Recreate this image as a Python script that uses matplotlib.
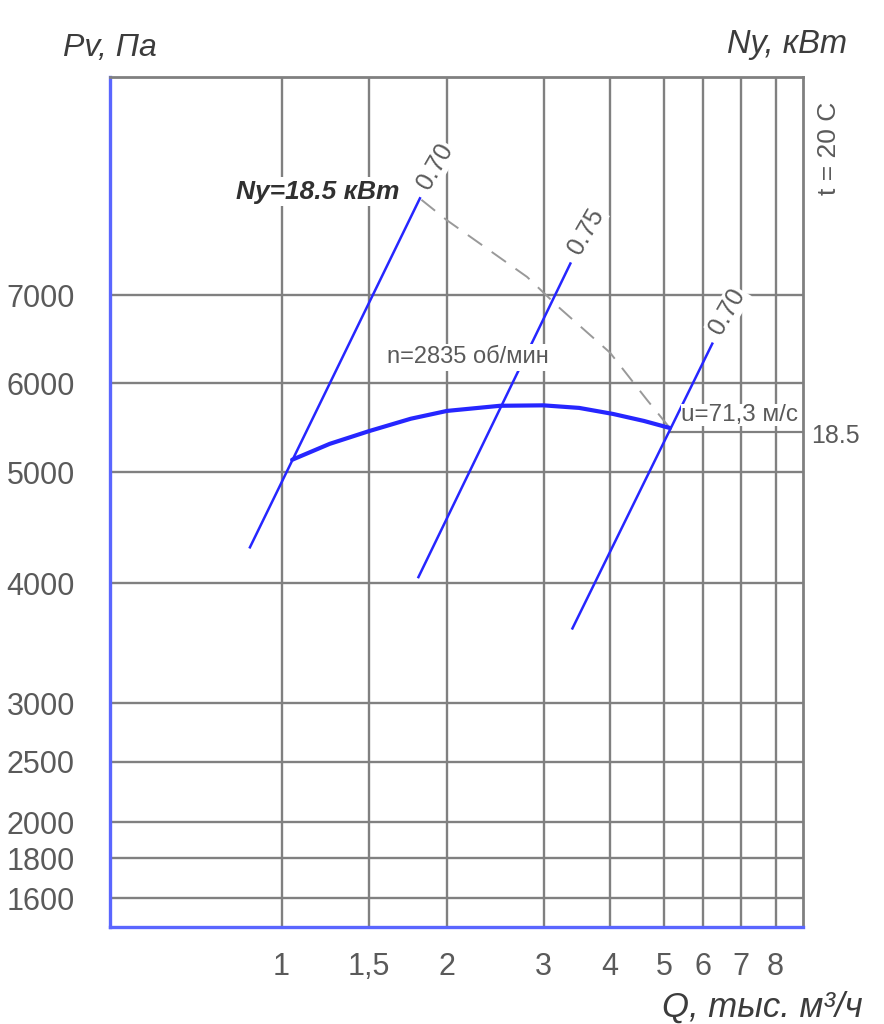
import numpy as np
import matplotlib
matplotlib.use('Agg')
import matplotlib.pyplot as plt
from matplotlib.ticker import FixedLocator, NullLocator, FixedFormatter

# fan curve Pv(Q), n = 2835 rpm
Q_CURVE = [1.05, 1.25, 1.5, 1.75, 2.0, 2.5, 3.0, 3.5, 4.05, 4.6, 5.14]
PV_CURVE = [5130, 5300, 5440, 5580, 5670, 5730, 5735, 5705, 5635, 5555, 5475]

# efficiency lines, start and end point of each
EFF_LABELS = ['0.70', '0.75', '0.70']
EFF_Q = [[0.875, 1.81], [1.80, 3.37], [3.40, 6.24]]
EFF_PV = [[4300, 8200], [4050, 7370], [3590, 6430]]

# dashed limit line
LIM_Q = [1.82, 2.0, 2.8, 3.22, 4.0, 4.66, 5.14]
LIM_PV = [8180, 7910, 7210, 6840, 6330, 5800, 5475]

# power level line 18.5 kW, drawn to the right border
NY_LEVEL_PV = 5430

Q_TICKS = [1, 1.5, 2, 3, 4, 5, 6, 7, 8]
Q_TICKLABELS = ['1', '1,5', '2', '3', '4', '5', '6', '7', '8']
PV_TICKS = [1600, 1800, 2000, 2500, 3000, 4000, 5000, 6000, 7000]
PV_TICKLABELS = [str(v) for v in PV_TICKS]

NY_LABEL = 'Ny=18.5 кВт'
NY_RIGHT = '18.5'
N_LABEL = 'n=2835 об/мин'
U_LABEL = 'u=71,3 м/с'

# the printed grid is not a clean log grid, so both axes are mapped
# through the spacing measured on the original sheet (pixels from axis origin)
Q_SCALE_VAL = [0.484, 1, 1.5, 2, 3, 4, 5, 6, 7, 8, 8.9]
Q_SCALE_POS = [0, 172.1, 259.5, 337.5, 434, 500.5, 554.5, 593.1, 631.2, 666, 693.5]
PV_SCALE_VAL = [1470, 1600, 1800, 2000, 2500, 3000, 4000, 5000, 6000, 7000, 10000]
PV_SCALE_POS = [0, 28.7, 68.7, 104.7, 165.3, 223.7, 343.7, 454.7, 543.7, 632, 850]


def sheet_scale(vals, pos):
    lv = np.log10(vals)
    pos = np.asarray(pos, dtype=float)

    def forward(v):
        v = np.clip(np.asarray(v, dtype=float), 1e-9, None)
        return np.interp(np.log10(v), lv, pos)

    def inverse(p):
        return 10 ** np.interp(np.asarray(p, dtype=float), pos, lv)

    return forward, inverse


plt.rcParams['font.family'] = ['Liberation Sans', 'DejaVu Sans']

W, H = 884, 1024
fig = plt.figure(figsize=(W / 100, H / 100), dpi=100)
ax = fig.add_axes([109.5 / W, (H - 927) / H, 693.5 / W, 850 / H])

ax.set_xscale('function', functions=sheet_scale(Q_SCALE_VAL, Q_SCALE_POS))
ax.set_yscale('function', functions=sheet_scale(PV_SCALE_VAL, PV_SCALE_POS))
ax.set_xlim(Q_SCALE_VAL[0], Q_SCALE_VAL[-1])
ax.set_ylim(PV_SCALE_VAL[0], PV_SCALE_VAL[-1])

ax.xaxis.set_major_locator(FixedLocator(Q_TICKS))
ax.xaxis.set_major_formatter(FixedFormatter(Q_TICKLABELS))
ax.xaxis.set_minor_locator(NullLocator())
ax.yaxis.set_major_locator(FixedLocator(PV_TICKS))
ax.yaxis.set_major_formatter(FixedFormatter(PV_TICKLABELS))
ax.yaxis.set_minor_locator(NullLocator())

grid_c = '#808080'
txt_c = '#5a5a5a'
ax.set_axisbelow(True)
ax.grid(True, color=grid_c, lw=1.7)
ax.tick_params(length=0, labelsize=22, labelcolor=txt_c)
ax.tick_params(axis='x', pad=18)
ax.tick_params(axis='y', pad=25)

for s in ['top', 'right']:
    ax.spines[s].set_color(grid_c)
    ax.spines[s].set_linewidth(2)
for s in ['left', 'bottom']:
    ax.spines[s].set_color('#5a66ff')
    ax.spines[s].set_linewidth(2.4)

blue = '#2626ff'
ax.plot(Q_CURVE, PV_CURVE, color=blue, lw=3, solid_capstyle='round', zorder=3)
for lab, q, p in zip(EFF_LABELS, EFF_Q, EFF_PV):
    ax.plot(q, p, color=blue, lw=1.8, zorder=3)
    ax.annotate(lab, xy=(q[1], p[1]), xytext=(11, 23), textcoords='offset points',
                rotation=60, ha='center', va='center', rotation_mode='anchor',
                fontsize=18, color=txt_c,
                bbox=dict(boxstyle='square,pad=0.05', fc='white', ec='none'), zorder=5)

ax.plot(LIM_Q, LIM_PV, color='#999999', lw=1.4, dashes=(9, 6), zorder=2)
ax.plot([Q_CURVE[-1], Q_SCALE_VAL[-1]], [NY_LEVEL_PV, NY_LEVEL_PV], color=grid_c, lw=1.6, zorder=2)

ax.text(1.18, 8290, NY_LABEL, style='italic', fontweight='bold', fontsize=19, color='#303030',
        ha='center', va='center', zorder=5,
        bbox=dict(boxstyle='square,pad=0.1', fc='white', ec='none'))
ax.text(2.18, 6280, N_LABEL, fontsize=17, color=txt_c, ha='center', va='center', zorder=5,
        bbox=dict(boxstyle='square,pad=0.1', fc='white', ec='none'))
ax.text(6.98, 5620, U_LABEL, fontsize=17.5, color=txt_c, ha='center', va='center', zorder=5,
        bbox=dict(boxstyle='square,pad=0.0', fc='white', ec='none'))
ax.annotate(NY_RIGHT, xy=(1, NY_LEVEL_PV), xycoords=('axes fraction', 'data'),
            xytext=(6, -3), textcoords='offset points', fontsize=18, color=txt_c,
            ha='left', va='center', annotation_clip=False)

lab_c = '#3c3c3c'
fig.text(63 / W, 1 - 48 / H, 'Pv, Па', style='italic', fontsize=23, color=lab_c, ha='left', va='center')
fig.text(847 / W, 1 - 45 / H, 'Ny, кВт', style='italic', fontsize=23.5, color=lab_c, ha='right', va='center')
fig.text(863 / W, 1 - 1007 / H, 'Q, тыс. м³/ч', style='italic', fontsize=25, color=lab_c,
         ha='right', va='center')
fig.text(829 / W, 1 - 148 / H, 't = 20 C', rotation=90, fontsize=19, color=txt_c,
         ha='center', va='center')

fig.savefig('out.png', dpi=100)
